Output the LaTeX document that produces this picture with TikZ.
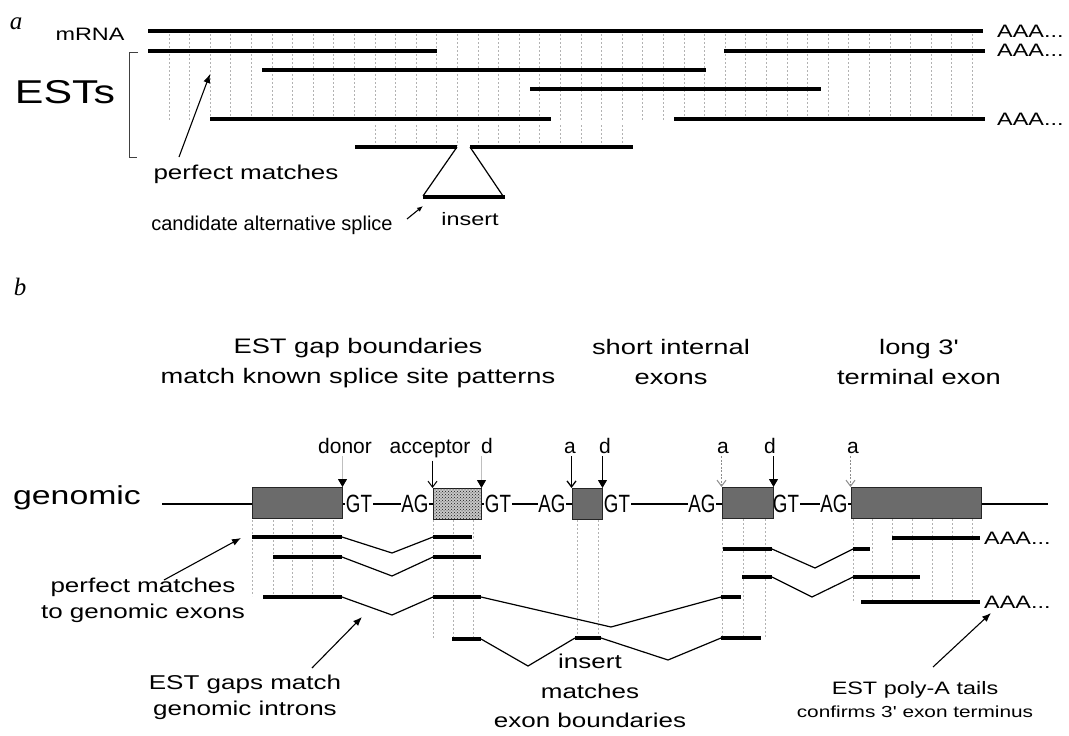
\documentclass[tikz,border=0pt]{standalone}
\usepackage{fontspec}
\setmainfont{Liberation Sans}
\newfontfamily\widesf{Liberation Sans}[FakeStretch=1.3]
\newfontfamily\narrowsf{Liberation Sans}[FakeStretch=0.75]
\newfontfamily\panelsf{Liberation Serif}
\usetikzlibrary{arrows.meta,patterns}

\begin{document}
\begin{tikzpicture}[
        x=1pt, y=-1pt,
        estline/.style={line width=3.5pt},
        gapline/.style={line width=1.2pt},
        guide/.style={black!30, line width=0.8pt, dash pattern=on 2pt off 2pt},
        exon/.style={rectangle, draw=black!85, fill=black!58, line width=1pt, minimum height=31pt, inner sep=0pt},
        site/.style={fill=white, inner sep=0.6pt, font=\narrowsf\fontsize{25}{25}\selectfont},
        sitename/.style={anchor=base, inner sep=0pt, font=\fontsize{21}{21}\selectfont},
        caption/.style={align=center, inner sep=0pt, font=\widesf\fontsize{20}{26}\selectfont},
        head/.style={align=center, inner sep=0pt, font=\widesf\fontsize{21}{30}\selectfont},
        tag/.style={inner sep=0pt, font=\panelsf\itshape\fontsize{25}{25}\selectfont},
        polya/.style={anchor=west, inner sep=0pt, font=\widesf\fontsize{18}{18}\selectfont},
        note/.style={draw, line width=1.1pt, -{Latex[length=9pt, width=7pt]}},
        accarrow/.style={draw, line width=1pt, shorten <=3pt, -{Straight Barb[length=6pt, width=9pt]}},
        donarrow/.style={draw, line width=1pt, shorten <=3pt, -{Triangle[length=8pt, width=9pt]}},
        faintdon/.style={draw=black!25, -{Triangle[length=8pt, width=9pt, color=black]}},
        faintacc/.style={draw=black!45, dash pattern=on 2pt off 1.5pt}
    ]
        \fill [white] (0,0) rectangle (1069,736);
        \useasboundingbox (0,0) rectangle (1069,736);

        \node [tag] (tagA) at (16,24) {a};
        \node [caption, font=\widesf\fontsize{18}{18}\selectfont] (mrna) at (90,34) {mRNA};
        \node [caption, font=\widesf\fontsize{33}{33}\selectfont] (ests) at (65,92) {ESTs};

        \foreach \i in {0,...,39}
            \draw [guide] ({169+20.6*\i},34) -- ({169+20.6*\i},121);
        \foreach \i in {10,...,22}
            \draw [guide] ({169+20.6*\i},125) -- ({169+20.6*\i},146);

        \draw [estline] (148,31) -- (983,31);
        \draw [estline] (148,51) -- (437,51);
        \draw [estline] (724,51) -- (985,51);
        \draw [estline] (262,70) -- (706,70);
        \draw [estline] (530,89) -- (821,89);
        \draw [estline] (210,119) -- (551,119);
        \draw [estline] (674,119) -- (985,119);
        \draw [estline] (355,147) -- (457,147);
        \draw [estline] (470,147) -- (633,147);
        \draw [gapline] (457,147) -- (423,196) (470,147) -- (503,196);
        \draw [estline] (423,197) -- (505,197);

        \node [polya] (aaa1) at (997,31) {AAA...};
        \node [polya] (aaa2) at (997,50) {AAA...};
        \node [polya] (aaa3) at (997,119) {AAA...};

        \draw [black!75, line width=1pt] (138,52) -- (129,52) -- (129,157) -- (137,157);
        \node [caption] (pmA) at (246,174) {perfect matches};
        \node [caption, font=\fontsize{20}{20}\selectfont] (alt) at (272,225) {candidate alternative splice};
        \node [caption, font=\widesf\fontsize{18}{18}\selectfont] (insA) at (470,219) {insert};
        \coordinate (pmAtail) at (179,157);
        \coordinate (pmAtip) at (210,74);
        \coordinate (altTail) at (407,219);
        \coordinate (altTip) at (423,206);
        \path [note] (pmAtail) -- (pmAtip);
        \path [note, -{Latex[length=6pt, width=5pt]}] (altTail) -- (altTip);

        \node [tag] (tagB) at (20,287) {b};
        \node [head] (hdGap) at (358,363) {EST gap boundaries\\match known splice site patterns};
        \node [head] (hdShort) at (671,362) {short internal\\exons};
        \node [head] (hdLong) at (919,362) {long 3'\\terminal exon};

        \node [caption, font=\widesf\fontsize{26}{26}\selectfont] (genomic) at (77,498) {genomic};
        \coordinate (gStart) at (162,504);
        \coordinate (gEnd) at (1048,504);
        \draw [line width=1.2pt] (gStart) -- (gEnd);

        \node [site] (gt1) at (359,504) {GT};
        \node [site] (ag1) at (415,504) {AG};
        \node [site] (gt2) at (498,504) {GT};
        \node [site] (ag2) at (552,504) {AG};
        \node [site] (gt3) at (617,504) {GT};
        \node [site] (ag3) at (702,504) {AG};
        \node [site] (gt4) at (786,504) {GT};
        \node [site] (ag4) at (834,504) {AG};

        \node [exon, minimum width=90pt] (ex1) at (297,503) {};
        \node [exon, minimum width=48pt, fill=black!22, postaction={pattern=crosshatch dots, pattern color=black!90}] (ex2) at (457,504) {};
        \node [exon, minimum width=30pt] (ex3) at (587,504) {};
        \node [exon, minimum width=51pt] (ex4) at (747.5,503) {};
        \node [exon, minimum width=130pt] (ex5) at (916,503) {};

        \node [sitename] (donor) at (345,453) {donor};
        \node [sitename] (acceptor) at (430,453) {acceptor};
        \node [sitename] (dA) at (487,453) {d};
        \node [sitename] (aB) at (570,453) {a};
        \node [sitename] (dB) at (605,453) {d};
        \node [sitename] (aC) at (723,453) {a};
        \node [sitename] (dC) at (770,453) {d};
        \node [sitename] (aD) at (853,453) {a};

        \path [donarrow, faintdon] (donor.south -| ex1.north east) -- (ex1.north east);
        \path [accarrow] (acceptor.south -| ex2.north west) -- (ex2.north west);
        \path [donarrow, faintdon] (dA.south -| ex2.north east) -- (ex2.north east);
        \path [accarrow, line width=1.3pt] (aB.south -| ex3.north west) -- (ex3.north west);
        \path [donarrow] (dB.south -| ex3.north east) -- (ex3.north east);
        \path [accarrow, faintacc] (aC.south -| ex4.north west) -- (ex4.north west);
        \path [donarrow] (dC.south -| ex4.north east) -- (ex4.north east);
        \path [accarrow, faintacc] (aD.south -| ex5.north west) -- (ex5.north west);

        \foreach \x in {252,273,292,312,333}
            \draw [guide] (\x,520) -- (\x,596);
        \foreach \x in {433,453,473}
            \draw [guide] (\x,520) -- (\x,638);
        \foreach \x in {577,598}
            \draw [guide] (\x,520) -- (\x,637);
        \foreach \x in {722,743,765}
            \draw [guide] (\x,519) -- (\x,637);
        \foreach \x in {853,872,892,912,932,952,972}
            \draw [guide] (\x,519) -- (\x,601);

        \draw [estline] (252,537) -- (342,537);
        \draw [gapline] (342,537) -- (392,553) -- (433,537);
        \draw [estline] (433,537) -- (472,537);

        \draw [estline] (273,557) -- (342,557);
        \draw [gapline] (342,557) -- (392,576) -- (433,557);
        \draw [estline] (433,557) -- (481,557);

        \draw [estline] (263,597) -- (342,597);
        \draw [gapline] (342,597) -- (392,615) -- (433,597);
        \draw [estline] (433,597) -- (481,597);
        \draw [gapline] (481,597) -- (611,627) -- (721,597);
        \draw [estline] (721,597) -- (741,597);

        \draw [estline] (452,639) -- (481,639);
        \draw [gapline] (481,639) -- (528,666) -- (575,638);
        \draw [estline] (575,638) -- (601,638);
        \draw [gapline] (601,638) -- (668,660) -- (721,638);
        \draw [estline] (721,638) -- (761,638);

        \draw [estline] (723,549) -- (772,549);
        \draw [gapline] (772,549) -- (815,568) -- (853,549);
        \draw [estline] (853,549) -- (870,549);

        \draw [estline] (742,577) -- (772,577);
        \draw [gapline] (772,577) -- (812,597) -- (853,577);
        \draw [estline] (853,577) -- (920,577);

        \draw [estline] (892,538) -- (980,538);
        \draw [estline] (861,602) -- (980,602);
        \node [polya] (aaa4) at (984,538) {AAA...};
        \node [polya] (aaa5) at (984,602) {AAA...};

        \node [caption] (pmB) at (143,600) {perfect matches\\to genomic exons};
        \node [caption] (gapsB) at (245,697) {EST gaps match\\genomic introns};
        \node [caption, font=\widesf\fontsize{20}{29.5}\selectfont] (insB) at (590,691) {insert\\matches\\exon boundaries};
        \node [caption, font=\widesf\fontsize{18}{23}\selectfont] (polyB) at (915,700) {EST poly-A tails\\\fontsize{16}{16}\selectfont confirms 3' exon terminus};

        \coordinate (pmBtail) at (164,580);
        \coordinate (pmBtip) at (241,538);
        \coordinate (gapsTail) at (312,668);
        \coordinate (gapsTip) at (362,617);
        \coordinate (polyTail) at (933,667);
        \coordinate (polyTip) at (991,613);
        \path [note] (pmBtail) -- (pmBtip);
        \path [note] (gapsTail) -- (gapsTip);
        \path [note] (polyTail) -- (polyTip);
\end{tikzpicture}
\end{document}
